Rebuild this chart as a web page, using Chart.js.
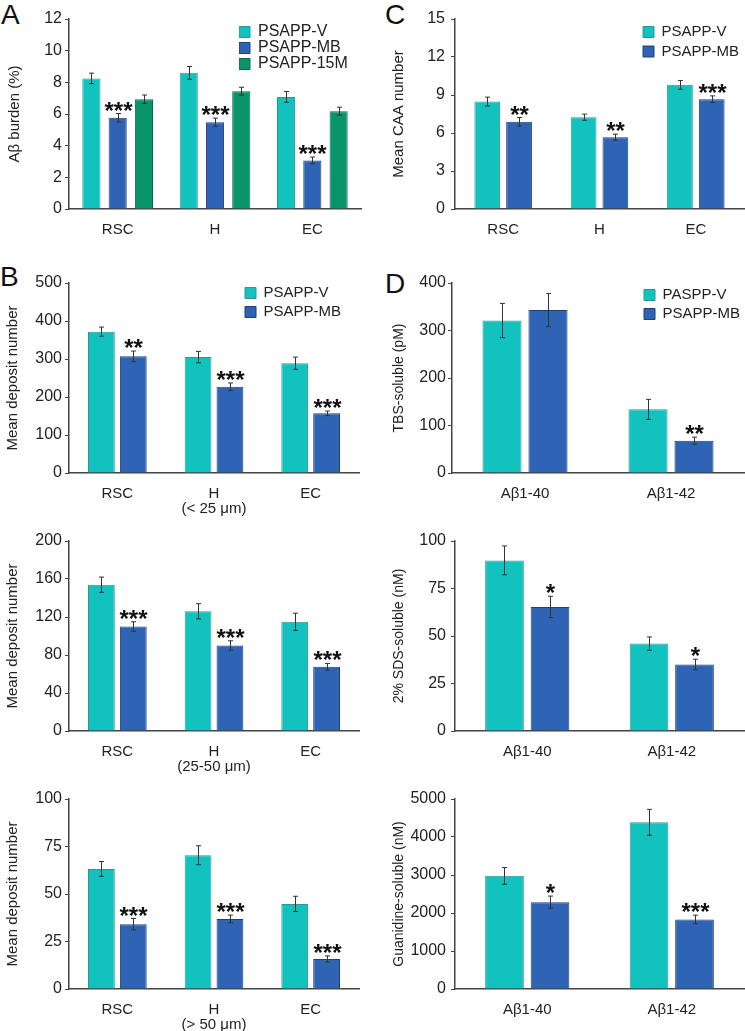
<!DOCTYPE html>
<html>
<head>
<meta charset="utf-8">
<script src="https://cdn.jsdelivr.net/npm/chart.js@4.4.0/dist/chart.umd.min.js"></script>
<style>
    body { margin: 0; background: #fff; }
    #page { position: relative; width: 745px; height: 1031px; overflow: hidden; font-family: "Liberation Sans", Arial, sans-serif; }
    #page canvas { position: absolute; }
    .tag { position: absolute; font-size: 28px; line-height: 28px; color: #111; }
</style>
</head>
<body>
<div id="page">
    <div class="tag" style="left:1px;top:1px">A</div>
    <div class="tag" style="left:385px;top:1px">C</div>
    <div class="tag" style="left:0px;top:263px">B</div>
    <div class="tag" style="left:385px;top:270px">D</div>

    <canvas id="chartA" width="365" height="240" style="left:0;top:0"></canvas>
    <canvas id="chartC" width="373" height="240" style="left:372px;top:0"></canvas>
    <canvas id="chartB1" width="365" height="275" style="left:0;top:245px"></canvas>
    <canvas id="chartD1" width="373" height="275" style="left:372px;top:245px"></canvas>
    <canvas id="chartB2" width="365" height="255" style="left:0;top:525px"></canvas>
    <canvas id="chartD2" width="373" height="255" style="left:372px;top:525px"></canvas>
    <canvas id="chartB3" width="365" height="251" style="left:0;top:780px"></canvas>
    <canvas id="chartD3" width="373" height="251" style="left:372px;top:780px"></canvas>
</div>
<script>
    // categories
    var regions = ['RSC', 'H', 'EC'];
    var regionsSmall = ['RSC', ['H', '(< 25 μm)'], 'EC'];
    var regionsMid = ['RSC', ['H', '(25-50 μm)'], 'EC'];
    var regionsLarge = ['RSC', ['H', '(> 50 μm)'], 'EC'];
    var peptides = ['Aβ1-40', 'Aβ1-42'];

    // A: Aβ burden (%)
    var burdenV = [8.25, 8.6, 7.08];
    var burdenVErr = [0.33, 0.4, 0.34];
    var burdenMB = [5.76, 5.48, 3.07];
    var burdenMBErr = [0.27, 0.26, 0.21];
    var burden15M = [6.93, 7.44, 6.18];
    var burden15MErr = [0.27, 0.25, 0.25];
    var burdenStars = ['***', '***', '***'];
    var burdenTicks = [0, 2, 4, 6, 8, 10, 12];

    // C: mean CAA number
    var caaV = [8.48, 7.25, 9.8];
    var caaVErr = [0.35, 0.24, 0.34];
    var caaMB = [6.88, 5.67, 8.67];
    var caaMBErr = [0.34, 0.24, 0.26];
    var caaStars = ['**', '**', '***'];
    var caaTicks = [0, 3, 6, 9, 12, 15];

    // B: mean deposit number by size
    var smallV = [372, 305, 289];
    var smallVErr = [12, 15, 16];
    var smallMB = [307, 227, 157];
    var smallMBErr = [14, 10, 6];
    var smallStars = ['**', '***', '***'];
    var smallTicks = [0, 100, 200, 300, 400, 500];

    var midV = [154, 126, 115];
    var midVErr = [8, 8, 9];
    var midMB = [110, 90, 67.6];
    var midMBErr = [5, 5, 3.5];
    var midStars = ['***', '***', '***'];
    var midTicks = [0, 40, 80, 120, 160, 200];

    var largeV = [63.2, 70.4, 44.8];
    var largeVErr = [3.9, 5, 4];
    var largeMB = [34.1, 36.9, 15.8];
    var largeMBErr = [3, 2, 1.6];
    var largeStars = ['***', '***', '***'];
    var largeTicks = [0, 25, 50, 75, 100];

    // D: soluble fractions
    var tbsV = [321, 134];
    var tbsVErr = [36, 21];
    var tbsMB = [343, 68];
    var tbsMBErr = [35, 7.5];
    var tbsStars = ['', '**'];
    var tbsTicks = [0, 100, 200, 300, 400];

    var sdsV = [89.8, 46];
    var sdsVErr = [7.6, 3.5];
    var sdsMB = [65.3, 35];
    var sdsMBErr = [5.6, 2.8];
    var sdsStars = ['*', '*'];
    var sdsTicks = [0, 25, 50, 75, 100];

    var guanV = [2977, 4387];
    var guanVErr = [220, 340];
    var guanMB = [2285, 1830];
    var guanMBErr = [160, 114];
    var guanStars = ['*', '***'];
    var guanTicks = [0, 1000, 2000, 3000, 4000, 5000];

    var FONT = '"Liberation Sans", Arial, sans-serif';
    var TEAL = '#12c2be', TEAL_LINE = '#2a9893';
    var BLUE = '#2f63b3', BLUE_LINE = '#1e3e7c';
    var GREEN = '#08956a', GREEN_LINE = '#0a6b4c';
    var AXIS = '#444';

    // error bars and significance stars
    var barExtras = {
        id: 'barExtras',
        afterDatasetsDraw: function (chart) {
            var ctx = chart.ctx;
            var y = chart.scales.y;
            chart.data.datasets.forEach(function (ds, di) {
                var meta = chart.getDatasetMeta(di);
                meta.data.forEach(function (bar, i) {
                    var v = ds.data[i];
                    var e = ds.errors[i];
                    var x = Math.round(bar.x) + 0.5;
                    var top = y.getPixelForValue(v + e);
                    var bot = y.getPixelForValue(v - e);
                    ctx.save();
                    ctx.strokeStyle = '#333';
                    ctx.lineWidth = 1;
                    ctx.beginPath();
                    ctx.moveTo(x, top); ctx.lineTo(x, bot);
                    ctx.moveTo(x - 2.5, top); ctx.lineTo(x + 2.5, top);
                    ctx.moveTo(x - 2.5, bot); ctx.lineTo(x + 2.5, bot);
                    ctx.stroke();
                    if (ds.stars && ds.stars[i]) {
                        ctx.font = 'bold 24px ' + FONT;
                        ctx.fillStyle = '#111';
                        ctx.textAlign = 'center';
                        ctx.textBaseline = 'alphabetic';
                        var m = ctx.measureText(ds.stars[i]);
                        ctx.fillText(ds.stars[i], x, top - 3 - m.actualBoundingBoxDescent);
                    }
                    ctx.restore();
                });
            });
        }
    };

    // put the legend at a fixed spot inside the plot
    var legendSpot = {
        id: 'legendSpot',
        afterLayout: function (chart, args, opts) {
            var lg = chart.legend;
            if (!lg || !opts || opts.x === undefined) return;
            var pad = lg.options.labels.padding;
            lg.left = opts.x - pad;
            lg.top = opts.y - opts.size / 2 - pad;
            lg.right = lg.left + lg.width;
            lg.bottom = lg.top + 300;
        }
    };

    function makeChart(id, p) {
        var t = p.ticks;
        return new Chart(document.getElementById(id), {
            type: 'bar',
            data: {
                labels: p.labels,
                datasets: p.sets.map(function (s) {
                    return {
                        label: s.label,
                        data: s.data,
                        errors: s.err,
                        stars: s.stars,
                        backgroundColor: s.fill,
                        borderColor: s.line,
                        borderWidth: 1,
                        categoryPercentage: p.cat,
                        barPercentage: p.bar
                    };
                })
            },
            options: {
                responsive: false,
                animation: false,
                layout: { padding: { top: p.top, right: p.right, left: 0, bottom: 0 } },
                plugins: {
                    legend: {
                        display: !!p.legend,
                        position: 'chartArea',
                        align: 'start',
                        labels: {
                            boxWidth: 11,
                            boxHeight: 11,
                            padding: p.legend ? p.legend.gap : 0,
                            color: '#222',
                            font: { size: p.legend ? p.legend.size : 15, family: FONT }
                        }
                    },
                    tooltip: { enabled: false },
                    legendSpot: p.legend || {}
                },
                scales: {
                    x: {
                        afterFit: function (s) { s.height = p.xh; },
                        grid: { display: false, drawTicks: false },
                        border: { display: true, color: AXIS, width: 1.5 },
                        ticks: {
                            padding: 14,
                            color: '#222',
                            autoSkip: false,
                            maxRotation: 0,
                            font: { size: 15, family: FONT, lineHeight: 0.95 }
                        }
                    },
                    y: {
                        min: t[0],
                        max: t[t.length - 1],
                        afterFit: function (s) { s.width = p.yw; },
                        grid: { drawOnChartArea: false, drawTicks: true, tickLength: 4, color: AXIS },
                        border: { display: true, color: AXIS, width: 1.5 },
                        ticks: {
                            stepSize: t[1] - t[0],
                            padding: p.tickPad,
                            color: '#222',
                            font: { size: 16, family: FONT },
                            callback: function (v) { return String(v); }
                        },
                        title: {
                            display: true,
                            text: p.yTitle,
                            color: '#222',
                            font: { size: p.titleSize, family: FONT },
                            padding: { top: p.titlePad, bottom: 0 }
                        }
                    }
                }
            },
            plugins: [barExtras, legendSpot]
        });
    }

    makeChart('chartA', {
        labels: regions, ticks: burdenTicks, yTitle: 'Aβ burden (%)',
        sets: [
            { label: 'PSAPP-V', data: burdenV, err: burdenVErr, fill: TEAL, line: TEAL_LINE },
            { label: 'PSAPP-MB', data: burdenMB, err: burdenMBErr, stars: burdenStars, fill: BLUE, line: BLUE_LINE },
            { label: 'PSAPP-15M', data: burden15M, err: burden15MErr, fill: GREEN, line: GREEN_LINE }
        ],
        cat: 0.81, bar: 0.69, yw: 69, right: 4, top: 19, xh: 31,
        tickPad: 3, titleSize: 15, titlePad: 6,
        legend: { x: 239, y: 32, gap: 0, size: 16 }
    });

    makeChart('chartC', {
        labels: regions, ticks: caaTicks, yTitle: 'Mean CAA number',
        sets: [
            { label: 'PSAPP-V', data: caaV, err: caaVErr, fill: TEAL, line: TEAL_LINE },
            { label: 'PSAPP-MB', data: caaMB, err: caaMBErr, stars: caaStars, fill: BLUE, line: BLUE_LINE }
        ],
        cat: 0.66, bar: 0.81, yw: 83, right: 1, top: 19, xh: 31,
        tickPad: 6, titleSize: 15, titlePad: 18,
        legend: { x: 271, y: 32, gap: 4.5, size: 15 }
    });

    makeChart('chartB1', {
        labels: regionsSmall, ticks: smallTicks, yTitle: 'Mean deposit number',
        sets: [
            { label: 'PSAPP-V', data: smallV, err: smallVErr, fill: TEAL, line: TEAL_LINE },
            { label: 'PSAPP-MB', data: smallMB, err: smallMBErr, stars: smallStars, fill: BLUE, line: BLUE_LINE }
        ],
        cat: 0.66, bar: 0.84, yw: 69, right: 6, top: 38, xh: 47,
        tickPad: 3, titleSize: 15, titlePad: 4,
        legend: { x: 245, y: 48, gap: 4, size: 15 }
    });

    makeChart('chartD1', {
        labels: peptides, ticks: tbsTicks, yTitle: 'TBS-soluble (pM)',
        sets: [
            { label: 'PASPP-V', data: tbsV, err: tbsVErr, fill: TEAL, line: TEAL_LINE },
            { label: 'PSAPP-MB', data: tbsMB, err: tbsMBErr, stars: tbsStars, fill: BLUE, line: BLUE_LINE }
        ],
        cat: 0.63, bar: 0.85, yw: 80, right: 1, top: 38, xh: 47,
        tickPad: 2, titleSize: 14, titlePad: 18.6,
        legend: { x: 272, y: 50, gap: 4, size: 15 }
    });

    makeChart('chartB2', {
        labels: regionsMid, ticks: midTicks, yTitle: 'Mean deposit number',
        sets: [
            { label: 'PSAPP-V', data: midV, err: midVErr, fill: TEAL, line: TEAL_LINE },
            { label: 'PSAPP-MB', data: midMB, err: midMBErr, stars: midStars, fill: BLUE, line: BLUE_LINE }
        ],
        cat: 0.66, bar: 0.84, yw: 69, right: 6, top: 16, xh: 49,
        tickPad: 3, titleSize: 15, titlePad: 4
    });

    makeChart('chartD2', {
        labels: peptides, ticks: sdsTicks, yTitle: '2% SDS-soluble (nM)',
        sets: [
            { label: 'PASPP-V', data: sdsV, err: sdsVErr, fill: TEAL, line: TEAL_LINE },
            { label: 'PSAPP-MB', data: sdsMB, err: sdsMBErr, stars: sdsStars, fill: BLUE, line: BLUE_LINE }
        ],
        cat: 0.63, bar: 0.85, yw: 83, right: 1, top: 16, xh: 49,
        tickPad: 5, titleSize: 14, titlePad: 18.6
    });

    makeChart('chartB3', {
        labels: regionsLarge, ticks: largeTicks, yTitle: 'Mean deposit number',
        sets: [
            { label: 'PSAPP-V', data: largeV, err: largeVErr, fill: TEAL, line: TEAL_LINE },
            { label: 'PSAPP-MB', data: largeMB, err: largeMBErr, stars: largeStars, fill: BLUE, line: BLUE_LINE }
        ],
        cat: 0.66, bar: 0.84, yw: 69, right: 6, top: 19, xh: 42,
        tickPad: 3, titleSize: 15, titlePad: 4
    });

    makeChart('chartD3', {
        labels: peptides, ticks: guanTicks, yTitle: 'Guanidine-soluble (nM)',
        sets: [
            { label: 'PASPP-V', data: guanV, err: guanVErr, fill: TEAL, line: TEAL_LINE },
            { label: 'PSAPP-MB', data: guanMB, err: guanMBErr, stars: guanStars, fill: BLUE, line: BLUE_LINE }
        ],
        cat: 0.63, bar: 0.85, yw: 83, right: 1, top: 19, xh: 42,
        tickPad: 5, titleSize: 14, titlePad: 18.6
    });
</script>
</body>
</html>
